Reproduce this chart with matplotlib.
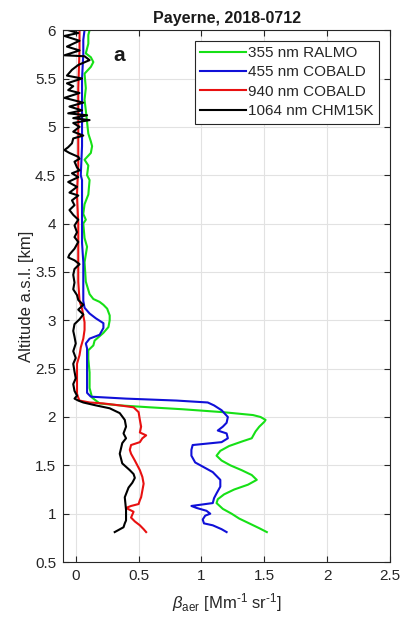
import numpy as np
import matplotlib.pyplot as plt

# ---- data (altitude km, beta_aer Mm-1 sr-1) ----
alt_355 = [0.81, 0.85, 0.90, 0.95, 1.00, 1.05, 1.11, 1.15, 1.20, 1.25, 1.30, 1.35,
           1.40, 1.45, 1.50, 1.55, 1.60, 1.65, 1.70, 1.75, 1.78, 1.85, 1.90, 1.95,
           1.97, 2.00, 2.02, 2.05, 2.08, 2.10, 2.12, 2.14, 2.20, 2.30, 2.46, 2.60,
           2.69, 2.74, 2.79, 2.87, 2.93, 3.00, 3.05, 3.12, 3.16, 3.19, 3.22, 3.27,
           3.40, 3.60, 3.76, 3.85, 4.00, 4.04, 4.10, 4.20, 4.30, 4.45, 4.50, 4.60,
           4.66, 4.73, 4.80, 4.85, 4.93, 5.05, 5.17, 5.28, 5.40, 5.55, 5.62, 5.67,
           5.72, 5.76, 5.86, 5.95, 6.00]
beta_355 = [1.52, 1.46, 1.38, 1.30, 1.24, 1.17, 1.12, 1.13, 1.18, 1.26, 1.37, 1.44,
            1.40, 1.32, 1.23, 1.16, 1.12, 1.15, 1.22, 1.33, 1.40, 1.43, 1.46, 1.50,
            1.51, 1.47, 1.41, 1.17, 0.85, 0.59, 0.35, 0.19, 0.13, 0.11, 0.11, 0.10,
            0.10, 0.14, 0.15, 0.22, 0.26, 0.27, 0.27, 0.25, 0.22, 0.19, 0.14, 0.11,
            0.08, 0.07, 0.09, 0.07, 0.06, 0.08, 0.06, 0.07, 0.10, 0.11, 0.09, 0.10,
            0.07, 0.12, 0.13, 0.12, 0.10, 0.09, 0.08, 0.07, 0.08, 0.07, 0.12, 0.14,
            0.12, 0.08, 0.10, 0.10, 0.11]

alt_455 = [0.81, 0.84, 0.88, 0.90, 0.94, 0.98, 1.00, 1.03, 1.06, 1.08, 1.11, 1.16,
           1.21, 1.28, 1.35, 1.43, 1.48, 1.53, 1.60, 1.66, 1.71, 1.74, 1.78, 1.83,
           1.86, 1.90, 1.94, 2.00, 2.07, 2.12, 2.15, 2.17, 2.19, 2.21, 2.25, 2.49,
           2.57, 2.71, 2.76, 2.81, 2.85, 2.92, 2.97, 3.02, 3.07, 3.13, 3.20, 3.40,
           3.60, 3.80, 4.00, 4.20, 4.45, 4.50, 4.80, 5.00, 5.28, 5.50, 5.75, 5.90,
           6.00]
beta_455 = [1.20, 1.16, 1.09, 1.02, 1.01, 1.03, 1.07, 1.04, 0.96, 0.92, 1.09, 1.10,
            1.12, 1.15, 1.15, 1.09, 1.02, 0.95, 0.92, 0.92, 0.93, 1.16, 1.21, 1.20,
            1.13, 1.17, 1.20, 1.21, 1.16, 1.10, 1.05, 0.80, 0.40, 0.12, 0.09, 0.09,
            0.09, 0.09, 0.08, 0.11, 0.19, 0.22, 0.22, 0.16, 0.11, 0.07, 0.06, 0.06,
            0.06, 0.05, 0.05, 0.05, 0.05, 0.04, 0.05, 0.05, 0.05, 0.05, 0.06, 0.06,
            0.07]

alt_940 = [0.81, 0.84, 0.88, 0.92, 0.96, 1.02, 1.06, 1.08, 1.10, 1.14, 1.17, 1.24,
           1.31, 1.38, 1.45, 1.55, 1.62, 1.66, 1.71, 1.74, 1.78, 1.81, 1.84, 1.90,
           1.97, 2.05, 2.10, 2.12, 2.14, 2.15, 2.17, 2.20, 2.24, 2.40, 2.55, 2.64,
           2.72, 2.81, 2.90, 2.98, 3.05, 3.12, 3.20, 3.40, 3.60, 3.80, 4.00, 4.30,
           4.60, 5.00, 5.40, 5.80, 6.00]
beta_940 = [0.56, 0.54, 0.51, 0.47, 0.44, 0.46, 0.40, 0.44, 0.50, 0.51, 0.52, 0.53,
            0.54, 0.53, 0.51, 0.47, 0.44, 0.43, 0.44, 0.51, 0.53, 0.56, 0.51, 0.52,
            0.51, 0.50, 0.46, 0.35, 0.22, 0.11, 0.03, 0.02, 0.01, 0.01, 0.01, 0.03,
            0.04, 0.06, 0.07, 0.07, 0.06, 0.05, 0.03, 0.02, 0.02, 0.02, 0.02, 0.01,
            0.02, 0.02, 0.02, 0.03, 0.03]

alt_1064 = [0.81, 0.86, 0.90, 0.93, 1.04, 1.17, 1.27, 1.32, 1.37, 1.41, 1.45, 1.52,
            1.62, 1.73, 1.78, 1.83, 1.90, 1.97, 2.04, 2.09, 2.12, 2.15,
            2.17, 2.19, 2.22, 2.27, 2.34, 2.40, 2.47, 2.55, 2.61, 2.68,
            2.76, 2.83, 2.89, 2.96, 3.01, 3.06, 3.11, 3.16, 3.21, 3.26,
            3.32, 3.39, 3.47, 3.53, 3.58, 3.62, 3.65, 3.68, 3.74, 3.81,
            3.86, 3.91, 3.98, 4.04, 4.09, 4.14, 4.19, 4.24, 4.29, 4.32,
            4.38, 4.43, 4.48, 4.52, 4.55, 4.58, 4.64, 4.67, 4.69, 4.73,
            4.76, 4.79, 4.83, 4.88, 4.91, 4.95, 5.00, 5.04, 5.07, 5.09,
            5.12, 5.14, 5.17, 5.21, 5.25, 5.30, 5.35, 5.38, 5.42, 5.45,
            5.50, 5.53, 5.59, 5.64, 5.69, 5.73, 5.74, 5.79, 5.83, 5.89,
            5.94, 5.97, 6.00]
beta_1064 = [0.31, 0.38, 0.39, 0.40, 0.40, 0.39, 0.42, 0.45, 0.47, 0.46, 0.43, 0.37,
             0.35, 0.37, 0.40, 0.38, 0.40, 0.39, 0.35, 0.27, 0.16, 0.06,
             0.02, -0.01, 0.01, -0.01, -0.02, 0.00, -0.01, -0.02, 0.00, -0.02,
             0.00, -0.01, -0.02, -0.01, 0.03, 0.06, 0.02, 0.06, 0.02, 0.01,
             -0.02, -0.01, -0.02, -0.01, 0.03, -0.01, -0.06, -0.05, -0.01, 0.02,
             -0.01, 0.01, -0.01, 0.02, -0.02, -0.05, -0.01, -0.03, 0.02, -0.05,
             0.01, -0.06, 0.02, -0.03, 0.03, 0.01, -0.01, 0.03, 0.02, -0.05,
             -0.09, -0.06, -0.03, -0.02, 0.06, -0.02, 0.03, -0.02, 0.11, -0.02,
             0.09, -0.06, 0.05, -0.05, 0.06, -0.09, 0.03, -0.06, -0.02, -0.07,
             0.05, -0.07, -0.03, 0.02, 0.11, 0.07, -0.09, 0.03, -0.07, 0.03,
             -0.09, 0.02, -0.06]

labels = ["355 nm RALMO", "455 nm COBALD", "940 nm COBALD", "1064 nm CHM15K"]
colors = ["#16e016", "#1010d8", "#e81010", "black"]

# ---- plot ----
plt.rcParams['font.family'] = ['Liberation Sans', 'DejaVu Sans']
plt.rcParams['mathtext.fontset'] = 'custom'
plt.rcParams['mathtext.rm'] = 'Liberation Sans'
plt.rcParams['mathtext.it'] = 'Liberation Sans:italic'

fig = plt.figure(figsize=(4.05, 6.28), dpi=100)
ax = fig.add_axes([0.156, 0.105, 0.807, 0.847])

series = [(alt_355, beta_355), (alt_455, beta_455), (alt_940, beta_940), (alt_1064, beta_1064)]
for (alt, beta), lab, col in zip(series, labels, colors):
    ax.plot(beta, alt, color=col, lw=1.5, label=lab)

ax.set_xlim(-0.1, 2.5)
ax.set_ylim(0.5, 6)
ax.set_xticks([0, 0.5, 1, 1.5, 2, 2.5])
ax.set_xticklabels(["0", "0.5", "1", "1.5", "2", "2.5"])
ax.set_yticks(np.arange(0.5, 6.01, 0.5))
ax.set_yticklabels(["0.5", "1", "1.5", "2", "2.5", "3", "3.5", "4", "4.5", "5", "5.5", "6"])
ax.grid(True, color="#e2e2e2", lw=0.8)
ax.set_axisbelow(True)
ax.tick_params(direction="in", top=True, right=True, labelsize=11,
               colors="#262626", length=4, pad=5)
for s in ax.spines.values():
    s.set_color("#262626")
    s.set_linewidth(0.8)

ax.set_title("Payerne, 2018-0712", fontsize=11.5, fontweight="bold", color="#1a1a1a", pad=5)
ax.set_ylabel("Altitude a.s.l. [km]", fontsize=12, color="#262626", labelpad=1)
ax.set_xlabel("$\\mathit{\\beta}_{\\mathrm{aer}}$ [Mm$^{\u20101}$ sr$^{\u20101}$]",
              fontsize=12, color="#262626", labelpad=6)

ax.text(0.17, 0.953, "a", transform=ax.transAxes, fontsize=15, fontweight="bold",
        ha="center", va="center", color="#1a1a1a")

leg = ax.legend(loc="upper right", bbox_to_anchor=(0.966, 0.98), fontsize=11,
                handlelength=3.0, handletextpad=0.15, borderpad=0.35, labelspacing=0.35,
                fancybox=False, framealpha=1, borderaxespad=0)
leg.get_frame().set_edgecolor("#262626")
leg.get_frame().set_linewidth(0.8)
for t in leg.get_texts():
    t.set_color("#262626")

fig.savefig("out.png", dpi=100, facecolor="white")
